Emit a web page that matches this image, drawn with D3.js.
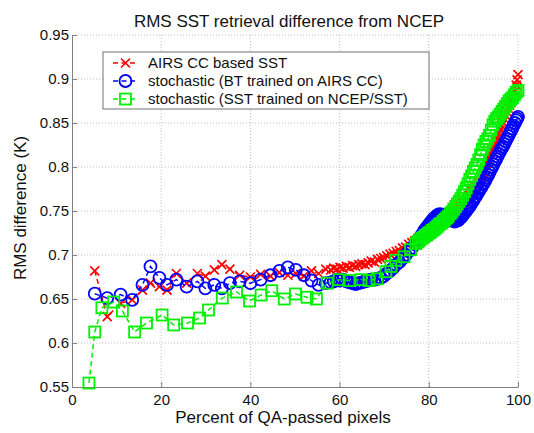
<!DOCTYPE html>
<html>
<head>
<meta charset="utf-8">
<script src="https://cdn.jsdelivr.net/npm/d3@7"></script>
<style>
  body { margin: 0; background: #fff; }
  svg { display: block; font-family: "Liberation Sans", Arial, sans-serif; }
</style>
</head>
<body>
<svg id="chart" width="534" height="433"></svg>
<script>
// percent of QA-passed pixels, shared by the AIRS CC and BT-trained runs
const xShared = [5.1, 7.9, 10.9, 13.5, 15.8, 17.6, 19.6, 21.3, 23.4, 25.7, 28.1, 29.9, 31.9, 33.6, 35.4, 37.6, 40.0, 42.3, 44.5, 46.5,
  48.4, 50.2, 52.0, 53.7, 55.3, 56.9,
  58.0, 58.7, 59.4, 60.1, 60.8, 61.5, 62.2, 62.9, 63.6, 64.3, 65.0, 65.7, 66.4, 67.1, 67.8, 68.5, 69.2, 69.9, 70.6, 71.3,
  72.0, 72.7, 73.4, 74.1, 74.8, 75.5, 76.2, 76.9, 77.6,
  78.0, 78.3, 78.6, 78.9, 79.2, 79.5, 79.8, 80.1, 80.4, 80.7, 81.0, 81.3, 81.6, 81.9, 82.2, 82.5, 82.8, 83.1, 83.4, 83.7,
  84.0, 84.3, 84.6, 84.9, 85.2, 85.5, 85.8, 86.1, 86.4, 86.7, 87.0, 87.3, 87.6, 87.9, 88.2, 88.5, 88.8, 89.1, 89.4, 89.7,
  90.0, 90.3, 90.6, 90.9, 91.2, 91.5, 91.8, 92.1, 92.4, 92.7, 93.0, 93.3, 93.6, 93.9, 94.2, 94.5, 94.8, 95.1, 95.4, 95.7,
  96.0, 96.3, 96.6, 96.9, 97.2, 97.5, 97.8, 98.1, 98.4, 98.7, 99.0, 99.3, 99.6, 99.8, 100.0];

const airsCC = [0.682, 0.630, 0.645, 0.649, 0.660, 0.668, 0.664, 0.660, 0.679, 0.668, 0.679, 0.676, 0.683, 0.689, 0.684, 0.677, 0.675, 0.678, 0.676, 0.680,
  0.677, 0.679, 0.676, 0.682, 0.679, 0.684,
  0.683, 0.685, 0.684, 0.686, 0.685, 0.687, 0.686, 0.688, 0.687, 0.689, 0.690, 0.689, 0.691, 0.693, 0.692, 0.695, 0.696, 0.697, 0.699, 0.701,
  0.702, 0.704, 0.705, 0.708, 0.709, 0.712, 0.714, 0.716, 0.719,
  0.721, 0.722, 0.723, 0.724, 0.725, 0.726, 0.726, 0.728, 0.729, 0.730, 0.731, 0.731, 0.733, 0.734, 0.735, 0.736, 0.737, 0.738, 0.739, 0.740,
  0.741, 0.742, 0.744, 0.745, 0.746, 0.747, 0.749, 0.750, 0.752, 0.754, 0.755, 0.757, 0.759, 0.761, 0.763, 0.765, 0.767, 0.768, 0.770, 0.772,
  0.774, 0.776, 0.778, 0.780, 0.782, 0.784, 0.787, 0.790, 0.793, 0.797, 0.804, 0.807, 0.810, 0.814, 0.818, 0.821, 0.825, 0.829, 0.833, 0.838,
  0.842, 0.847, 0.851, 0.855, 0.859, 0.863, 0.867, 0.870, 0.873, 0.876, 0.880, 0.886, 0.893, 0.899, 0.905];

const btTrained = [0.656, 0.651, 0.655, 0.649, 0.666, 0.687, 0.674, 0.666, 0.672, 0.664, 0.670, 0.662, 0.666, 0.662, 0.668, 0.670, 0.668, 0.672, 0.677, 0.682,
  0.686, 0.683, 0.677, 0.671, 0.666, 0.668,
  0.669, 0.670, 0.672, 0.671, 0.672, 0.670, 0.669, 0.668, 0.667, 0.668, 0.669, 0.670, 0.671, 0.672, 0.672, 0.673, 0.674, 0.676, 0.679, 0.682,
  0.685, 0.689, 0.692, 0.696, 0.700, 0.704, 0.708, 0.712, 0.716,
  0.719, 0.722, 0.724, 0.727, 0.729, 0.731, 0.733, 0.735, 0.737, 0.739, 0.741, 0.742, 0.744, 0.745, 0.746, 0.746, 0.746, 0.745, 0.745, 0.744,
  0.743, 0.742, 0.741, 0.740, 0.739, 0.739, 0.738, 0.739, 0.739, 0.740, 0.742, 0.743, 0.745, 0.747, 0.749, 0.751, 0.753, 0.755, 0.757, 0.760,
  0.762, 0.765, 0.767, 0.770, 0.772, 0.775, 0.777, 0.780, 0.782, 0.785, 0.788, 0.791, 0.794, 0.797, 0.800, 0.803, 0.806, 0.809, 0.812, 0.815,
  0.818, 0.821, 0.823, 0.826, 0.829, 0.832, 0.835, 0.838, 0.841, 0.844, 0.847, 0.850, 0.853, 0.855, 0.857];

// SST trained on NCEP/SST has its own x positions
const xSst = [3.8, 5.1, 6.7, 9.35, 11.3, 14.05, 16.7, 20.2, 22.8, 25.9, 28.6, 30.6, 33.7, 36.9, 39.8, 42.4, 44.8, 47.6, 50.1, 52.7,
  54.8, 57.2, 59.9, 62.1, 64.8, 66.6, 68.4, 70.4, 71.5, 72.6, 74.45, 75.9, 77.1,
  77.6, 78.0, 78.4, 78.8, 79.2, 79.6, 80.0, 80.4, 80.8, 81.2, 81.6, 82.0, 82.4, 82.8, 83.2, 83.6, 84.0, 84.4, 84.8, 85.2,
  85.6, 86.0, 86.4, 86.8, 87.2, 87.6, 88.0, 88.4, 88.8, 89.2, 89.6, 90.0, 90.4, 90.8, 91.2, 91.6, 92.0, 92.4, 92.8, 93.2,
  93.6, 94.0, 94.4, 94.8, 95.2, 95.6, 96.0, 96.4, 96.8, 97.2, 97.6, 98.0, 98.4, 98.8, 99.2, 99.6, 100.0];
const sstTrained = [0.5545, 0.6125, 0.640, 0.6466, 0.6364, 0.6125, 0.6227, 0.6318, 0.6205, 0.6227, 0.6284, 0.6375, 0.6511, 0.658, 0.6477, 0.6545, 0.6594, 0.650, 0.6557, 0.652,
  0.650, 0.668, 0.672, 0.671, 0.672, 0.671, 0.673, 0.681, 0.687, 0.694, 0.698, 0.706, 0.713,
  0.715, 0.717, 0.719, 0.720, 0.722, 0.723, 0.725, 0.726, 0.728, 0.729, 0.731, 0.733, 0.735, 0.736, 0.738, 0.740, 0.742, 0.744, 0.747, 0.749,
  0.752, 0.755, 0.758, 0.761, 0.764, 0.768, 0.772, 0.776, 0.781, 0.786, 0.790, 0.795, 0.799, 0.803, 0.808, 0.814, 0.820, 0.825, 0.829, 0.832,
  0.836, 0.842, 0.848, 0.852, 0.855, 0.857, 0.860, 0.863, 0.866, 0.869, 0.872, 0.875, 0.877, 0.879, 0.882, 0.885, 0.887];

const xTicks = [0, 20, 40, 60, 80, 100];
const yTicks = [0.55, 0.6, 0.65, 0.7, 0.75, 0.8, 0.85, 0.9, 0.95];
const legendLabels = ["AIRS CC based SST", "stochastic (BT trained on AIRS CC)", "stochastic (SST trained on NCEP/SST)"];

const svg = d3.select("#chart");
const plotLeft = 72, plotRight = 518, plotTop = 35, plotBottom = 387;

const x = d3.scaleLinear().domain([0, 100]).range([plotLeft, plotRight]);
const y = d3.scaleLinear().domain([0.55, 0.95]).range([plotBottom, plotTop]);

// dotted grid
svg.append("g").selectAll("line").data(xTicks.slice(1)).enter().append("line")
    .attr("x1", d => x(d)).attr("x2", d => x(d)).attr("y1", plotTop).attr("y2", plotBottom)
    .attr("stroke", "#bdbdbd").attr("stroke-dasharray", "1,2");
svg.append("g").selectAll("line").data(yTicks.slice(1)).enter().append("line")
    .attr("x1", plotLeft).attr("x2", plotRight).attr("y1", d => y(d)).attr("y2", d => y(d))
    .attr("stroke", "#bdbdbd").attr("stroke-dasharray", "1,2");

let xAxis = svg.append("g")
    .attr("transform", "translate(0," + plotBottom + ")")
    .call(d3.axisBottom(x).tickValues(xTicks).tickFormat(d3.format("d")).tickSizeInner(-5).tickSizeOuter(0).tickPadding(7));
let yAxis = svg.append("g")
    .attr("transform", "translate(" + plotLeft + ",0)")
    .call(d3.axisLeft(y).tickValues(yTicks).tickFormat(d => String(+d.toFixed(2))).tickSizeInner(-5).tickSizeOuter(0).tickPadding(3));
[xAxis, yAxis].forEach(function(a) {
    a.selectAll("path, line").attr("stroke", "#808080");
    a.selectAll("text").attr("fill", "#111").style("font-size", "15px").style("font-family", "Liberation Sans, Arial, sans-serif");
});

svg.append("text").attr("x", 289).attr("y", 27).attr("text-anchor", "middle")
    .style("font-size", "17px").attr("fill", "#111").text("RMS SST retrieval difference from NCEP");
svg.append("text").attr("x", 283).attr("y", 423).attr("text-anchor", "middle")
    .style("font-size", "17px").attr("fill", "#111").text("Percent of QA-passed pixels");
svg.append("text").attr("transform", "translate(26,208) rotate(-90)").attr("text-anchor", "middle")
    .style("font-size", "17px").attr("fill", "#111").text("RMS difference (K)");

function drawMarker(sel, kind, color) {
    if (kind === "x") {
        sel.append("path").attr("d", "M-4.5,-4.5L4.5,4.5M-4.5,4.5L4.5,-4.5")
            .attr("stroke", color).attr("stroke-width", 1.7).attr("fill", "none");
    } else if (kind === "o") {
        sel.append("circle").attr("r", 6)
            .attr("stroke", color).attr("stroke-width", 1.8).attr("fill", "none");
    } else {
        sel.append("rect").attr("x", -5.5).attr("y", -5.5).attr("width", 11).attr("height", 11)
            .attr("stroke", color).attr("stroke-width", 1.8).attr("fill", "none");
    }
}

const series = [
    {xs: xShared, ys: airsCC, color: "#ff0000", kind: "x"},
    {xs: xShared, ys: btTrained, color: "#0000ff", kind: "o"},
    {xs: xSst, ys: sstTrained, color: "#00f000", kind: "s"}
];

let line = d3.line().x(d => x(d[0])).y(d => y(d[1]));

series.forEach(function(s) {
    let pts = s.xs.map((v, i) => [v, s.ys[i]]).filter(d => d[1] !== undefined);
    let g = svg.append("g");
    g.append("path").attr("d", line(pts)).attr("fill", "none")
        .attr("stroke", s.color).attr("stroke-width", 1.5).attr("stroke-dasharray", "5,3.5");
    g.selectAll("g.m").data(pts).enter().append("g").attr("class", "m")
        .attr("transform", d => "translate(" + x(d[0]) + "," + y(d[1]) + ")")
        .each(function() { drawMarker(d3.select(this), s.kind, s.color); });
});

// legend
let lg = svg.append("g");
lg.append("rect").attr("x", 103).attr("y", 52).attr("width", 326).attr("height", 57)
    .attr("fill", "#fff").attr("stroke", "#707070").attr("stroke-width", 1);
series.forEach(function(s, i) {
    let cy = 63 + i * 18;
    lg.append("line").attr("x1", 113).attr("x2", 138).attr("y1", cy).attr("y2", cy)
        .attr("stroke", s.color).attr("stroke-width", 1.5).attr("stroke-dasharray", "5,3.5");
    let m = lg.append("g").attr("transform", "translate(125.5," + cy + ")");
    drawMarker(m, s.kind, s.color);
    lg.append("text").attr("x", 148).attr("y", cy).attr("dy", "0.36em")
        .style("font-size", "15px").attr("fill", "#111").text(legendLabels[i]);
});
</script>
</body>
</html>
